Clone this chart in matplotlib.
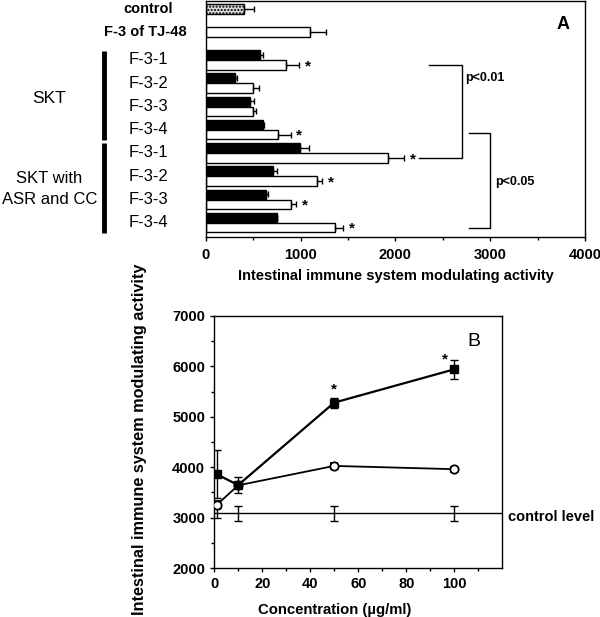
import numpy as np
import matplotlib
matplotlib.use("Agg")
import matplotlib.pyplot as plt
import matplotlib.transforms as mtransforms

plt.rcParams['font.family'] = ['Liberation Sans', 'DejaVu Sans']

# ---- panel A data ----
control_val, control_err = 405, 100
tj48_val, tj48_err = 1098, 175
frac_labels = ['F-3-1', 'F-3-2', 'F-3-3', 'F-3-4', 'F-3-1', 'F-3-2', 'F-3-3', 'F-3-4']
black_vals = [570, 306, 464, 605, 992, 704, 633, 746]
black_errs = [35, 18, 46, 11, 95, 42, 18, 10]
white_vals = [851, 500, 500, 763, 1924, 1175, 897, 1361]
white_errs = [130, 59, 28, 131, 166, 56, 53, 88]
white_star = [True, False, False, True, True, True, True, True]

# ---- panel B data ----
conc = [1, 10, 50, 100]
sq_vals = [3860, 3645, 5280, 5940]
sq_errs = [480, 160, 100, 190]
ci_vals = [3250, 3640, 4025, 3960]
ci_errs = [80, 60, 60, 50]
ctrl_level = 3085
ctrl_errs = [100, 150, 150, 150]
star_x = [50, 96]
star_y = [5540, 6140]

fig = plt.figure(figsize=(6.0, 6.17), dpi=100)

# ================= panel A =================
ax = fig.add_axes([0.343, 0.616, 0.632, 0.383])
bh = 0.41
pair_y = 2.55 + np.arange(len(frac_labels))
yb = pair_y - 0.215
yw = pair_y + 0.215
y_ctrl, y_tj = 0.36, 1.34

ax.barh(y_ctrl, control_val, height=bh, color='#d8d8d8', edgecolor='black',
        hatch='.....', lw=1)
ax.barh(y_tj, tj48_val, height=bh, color='white', edgecolor='black', lw=1)
ax.barh(yb, black_vals, height=bh, color='black', edgecolor='black', lw=1)
ax.barh(yw, white_vals, height=bh, color='white', edgecolor='black', lw=1)

ekw = dict(fmt='none', ecolor='black', elinewidth=1, capsize=2.5, capthick=1)
ax.errorbar([control_val], [y_ctrl], xerr=[[0], [control_err]], **ekw)
ax.errorbar([tj48_val], [y_tj], xerr=[[0], [tj48_err]], **ekw)
ax.errorbar(black_vals, yb, xerr=[np.zeros(8), black_errs], **ekw)
ax.errorbar(white_vals, yw, xerr=[np.zeros(8), white_errs], **ekw)
for v, e, y, s in zip(white_vals, white_errs, yw, white_star):
    if s:
        ax.text(v + e + 60, y + 0.05, '*', ha='left', va='center',
                fontsize=11, fontweight='bold')

ax.set_xlim(0, 4000)
ax.set_ylim(10.17, 0)
ax.set_yticks([])
ax.set_xticks([0, 1000, 2000, 3000, 4000])
ax.set_xticks(np.arange(500, 4000, 1000), minor=True)
ax.tick_params(axis='x', direction='out', length=3, width=1, labelsize=10.5, pad=5)
ax.tick_params(axis='x', which='minor', direction='out', length=2, width=1)
for lab in ax.get_xticklabels():
    lab.set_fontweight('bold')
for sp in ax.spines.values():
    sp.set_linewidth(1)
ax.set_xlabel('Intestinal immune system modulating activity', fontsize=10.5,
              fontweight='bold', labelpad=5)
ax.text(0.96, 0.9, 'A', transform=ax.transAxes, ha='right', va='center',
        fontsize=13, fontweight='bold')

# left labels
bt = mtransforms.blended_transform_factory(fig.transFigure, ax.transData)
ax.text(0.247, y_ctrl, 'control', transform=bt, ha='center', va='center',
        fontsize=10.5, fontweight='bold')
ax.text(0.242, y_tj, 'F-3 of TJ-48', transform=bt, ha='center', va='center',
        fontsize=10.5, fontweight='bold')
for lab, y in zip(frac_labels, pair_y):
    ax.text(0.247, y, lab, transform=bt, ha='center', va='center', fontsize=12)
ax.plot([0.173, 0.173], [2.15, 6.0], transform=bt, color='black', lw=3.5,
        clip_on=False, solid_capstyle='butt')
ax.plot([0.173, 0.173], [6.14, 10.0], transform=bt, color='black', lw=3.5,
        clip_on=False, solid_capstyle='butt')
ax.text(0.082, 4.2, 'SKT', transform=bt, ha='center', va='center', fontsize=12.5)
ax.text(0.082, 8.1, 'SKT with\nASR and CC', transform=bt, ha='center',
        va='center', fontsize=12, linespacing=1.45)

# significance brackets (x in data, y in data rows)
b1_top, b1_bot = yw[0], yw[4]
ax.plot([2350, 2700, 2700, 2250], [b1_top, b1_top, b1_bot, b1_bot],
        color='black', lw=1, clip_on=False)
ax.text(2735, b1_top + 0.55, 'p<0.01', fontsize=9, fontweight='bold',
        ha='left', va='center')
b2_top, b2_bot = yb[3] + 0.35, yw[7]
ax.plot([2780, 3000, 3000, 2780], [b2_top, b2_top, b2_bot, b2_bot],
        color='black', lw=1, clip_on=False)
ax.text(3050, (b2_top + b2_bot) / 2 + 0.1, 'p<0.05', fontsize=9,
        fontweight='bold', ha='left', va='center')

# ================= panel B =================
bx = fig.add_axes([0.357, 0.0794, 0.48, 0.4086])
bx.axhline(ctrl_level, color='black', lw=1)
bx.errorbar(conc, [ctrl_level] * 4, yerr=ctrl_errs, fmt='none', ecolor='black',
            elinewidth=1, capsize=3, capthick=1)
bx.errorbar(conc, ci_vals, yerr=ci_errs, fmt='-o', color='black', mfc='white',
            mec='black', ms=6, mew=1.3, lw=1.3, capsize=3, capthick=1,
            elinewidth=1, zorder=3)
bx.errorbar(conc, sq_vals, yerr=sq_errs, fmt='-s', color='black', mfc='black',
            ms=6, lw=1.6, capsize=3, capthick=1, elinewidth=1, zorder=4)
for sx, sy in zip(star_x, star_y):
    bx.text(sx, sy, '*', ha='center', va='center', fontsize=11,
            fontweight='bold')

bx.set_xlim(0, 120)
bx.set_ylim(2000, 7000)
bx.set_xticks([0, 20, 40, 60, 80, 100])
bx.set_xticks(np.arange(10, 121, 20), minor=True)
bx.set_yticks(np.arange(2000, 7001, 1000))
bx.set_yticks(np.arange(2500, 7000, 1000), minor=True)
bx.tick_params(direction='out', length=3, width=1, labelsize=10.5)
bx.tick_params(which='minor', direction='out', length=2, width=1)
for lab in bx.get_xticklabels() + bx.get_yticklabels():
    lab.set_fontweight('bold')
for sp in bx.spines.values():
    sp.set_linewidth(1)
bx.set_xlabel('Concentration (\u00b5g/ml)', fontsize=10.7, fontweight='bold')
bx.xaxis.set_label_coords(0.42, -0.14)
bx.set_ylabel('Intestinal immune system modulating activity', fontsize=11.7,
              fontweight='bold')
bx.yaxis.set_label_coords(-0.235, 0.51)
bx.text(0.9, 0.9, 'B', transform=bx.transAxes, ha='center', va='center',
        fontsize=14)
bx.text(1.02, ctrl_level - 70, 'control level',
        transform=mtransforms.blended_transform_factory(bx.transAxes, bx.transData),
        ha='left', va='center', fontsize=10.5, fontweight='bold')

fig.savefig('out.png', dpi=100)
